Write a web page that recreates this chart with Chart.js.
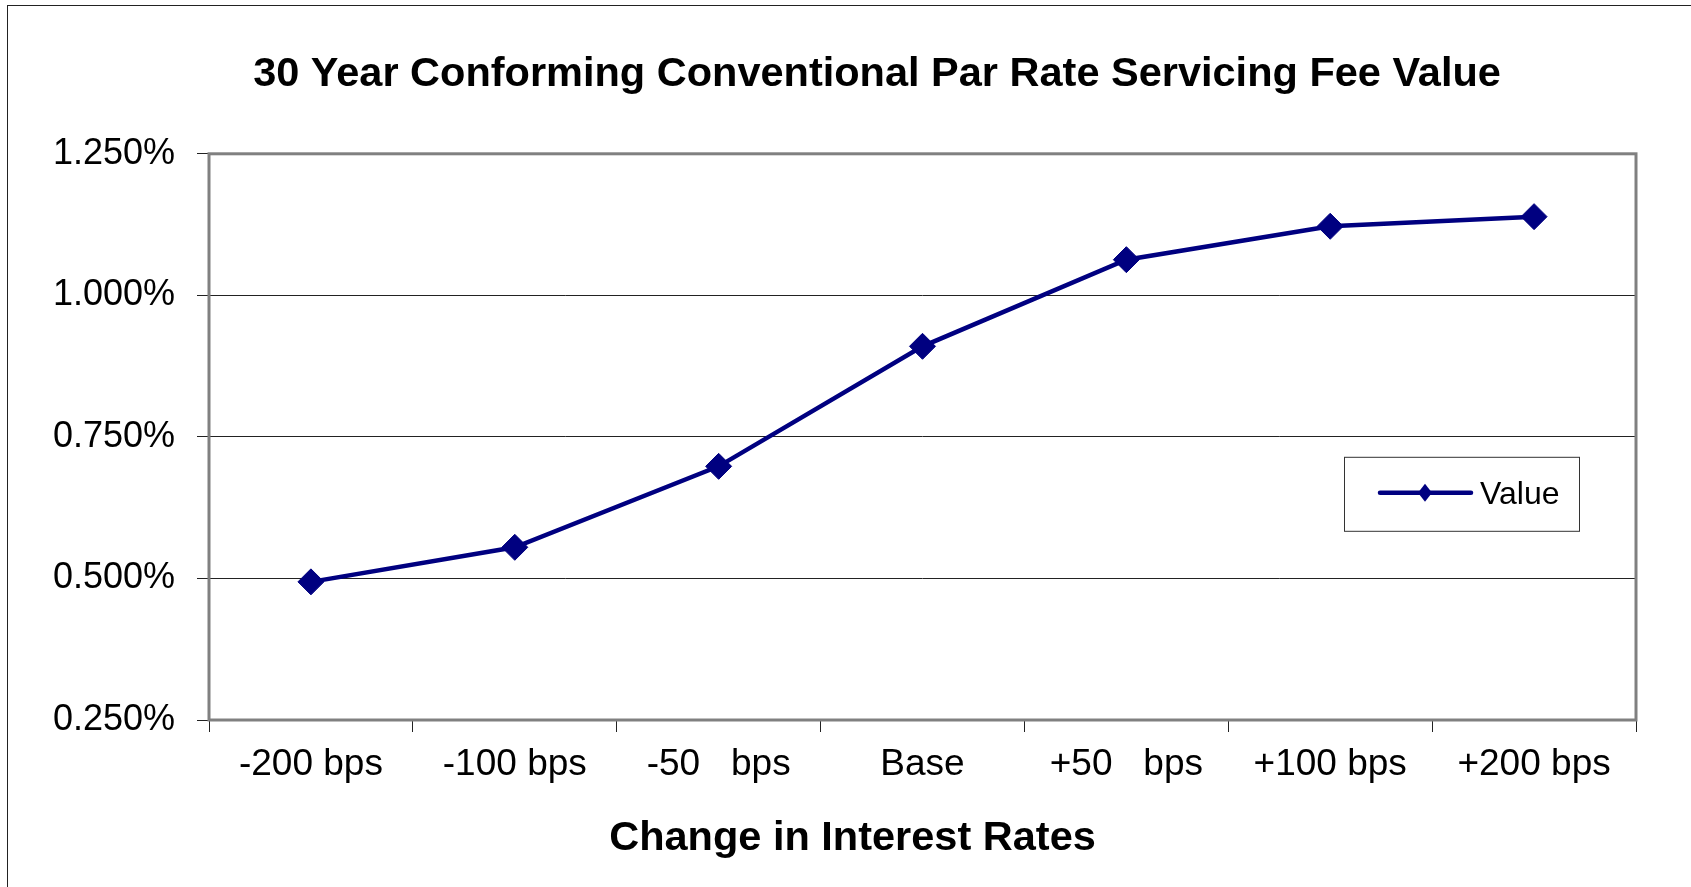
<!DOCTYPE html>
<html>
<head>
<meta charset="utf-8">
<title>30 Year Conforming Conventional Par Rate Servicing Fee Value</title>
<script src="https://cdn.jsdelivr.net/npm/chart.js@4.4.1/dist/chart.umd.min.js"></script>
<style>
    html, body { margin: 0; padding: 0; background: #fff; overflow: hidden; }
    #frame { position: absolute; left: 7px; top: 5px; width: 1800px; height: 1000px; border: 1px solid #222; }
    #feeChart { position: absolute; left: 0; top: 0; }
</style>
</head>
<body>
<div id="frame"></div>
<canvas id="feeChart" width="1691" height="887"></canvas>
<script>
// data
const categories = ['-200 bps', '-100 bps', '-50   bps', 'Base', '+50   bps', '+100 bps', '+200 bps'];
const fee_values = [0.494, 0.555, 0.698, 0.910, 1.063, 1.122, 1.139];
const y_ticks = [0.25, 0.50, 0.75, 1.00, 1.25];
const series_label = 'Value';
const chart_title = '30 Year Conforming Conventional Par Rate Servicing Fee Value';
const x_title = 'Change in Interest Rates';

const FONT = "'Liberation Sans', Arial, sans-serif";
const NAVY = '#000080';

Chart.defaults.font.family = FONT;
Chart.defaults.color = '#000';

// plot area border, legend box and x axis caption
const excelBits = {
    id: 'excelBits',
    afterLayout(chart) {
        // let the y labels use the room left of the axis box (otherwise clipped)
        chart.scales.y.left = 20;
    },
    afterDatasetsDraw(chart) {
        const ctx = chart.ctx;
        const a = chart.chartArea;
        ctx.save();

        // gray plot frame
        ctx.strokeStyle = '#808080';
        ctx.lineWidth = 3;
        ctx.strokeRect(a.left, a.top, a.right - a.left, a.bottom - a.top);

        // legend
        const ds = chart.data.datasets[0];
        const bx = a.right - 292, by = a.top + 303, bw = 235, bh = 74;
        ctx.fillStyle = '#fff';
        ctx.fillRect(bx, by, bw, bh);
        ctx.strokeStyle = '#333';
        ctx.lineWidth = 1;
        ctx.strokeRect(bx + 0.5, by + 0.5, bw, bh);
        const ly = by + 36;
        ctx.strokeStyle = ds.borderColor;
        ctx.lineWidth = 4.5;
        ctx.lineCap = 'round';
        ctx.beginPath();
        ctx.moveTo(bx + 36, ly);
        ctx.lineTo(bx + 127, ly);
        ctx.stroke();
        ctx.fillStyle = ds.borderColor;
        ctx.beginPath();
        ctx.moveTo(bx + 81, ly - 9);
        ctx.lineTo(bx + 88, ly);
        ctx.lineTo(bx + 81, ly + 9);
        ctx.lineTo(bx + 74, ly);
        ctx.closePath();
        ctx.fill();
        ctx.fillStyle = '#000';
        ctx.font = '32px ' + FONT;
        ctx.textAlign = 'left';
        ctx.textBaseline = 'middle';
        ctx.fillText(ds.label, bx + 136, ly + 2);

        // x axis caption
        ctx.font = 'bold 41.5px ' + FONT;
        ctx.textAlign = 'center';
        ctx.fillText(x_title, (a.left + a.right) / 2 - 70, a.bottom + 119);
        ctx.restore();
    }
};

const config = {
    type: 'line',
    data: {
        labels: categories,
        datasets: [{
            label: series_label,
            data: fee_values,
            borderColor: NAVY,
            backgroundColor: NAVY,
            borderWidth: 4.5,
            tension: 0,
            pointStyle: 'rectRot',
            pointRadius: 13,
            pointHoverRadius: 13,
            pointBackgroundColor: NAVY,
            pointBorderColor: NAVY,
            pointBorderWidth: 1
        }]
    },
    options: {
        responsive: false,
        animation: false,
        devicePixelRatio: 1,
        layout: {
            padding: { left: 118, right: 55, top: 0, bottom: 0 }
        },
        plugins: {
            legend: { display: false },
            tooltip: { enabled: false },
            title: {
                display: true,
                text: chart_title,
                color: '#000',
                font: { size: 41.5, weight: 'bold' },
                padding: { top: 50, bottom: 54 }
            }
        },
        scales: {
            x: {
                type: 'category',
                offset: true,
                grid: {
                    offset: true,
                    drawOnChartArea: false,
                    drawTicks: true,
                    tickLength: 12,
                    color: '#222',
                    lineWidth: 1
                },
                border: { display: false },
                ticks: {
                    color: '#000',
                    font: { size: 37 },
                    padding: 11,
                    maxRotation: 0,
                    autoSkip: false
                },
                afterFit(scale) { scale.height = 167; }
            },
            y: {
                min: y_ticks[0],
                max: y_ticks[y_ticks.length - 1],
                grid: {
                    color: '#222',
                    lineWidth: 1,
                    drawTicks: true,
                    tickLength: 12
                },
                border: { display: false },
                ticks: {
                    color: '#000',
                    font: { size: 36 },
                    padding: 22,
                    callback: (v) => Number(v).toFixed(3) + '%'
                },
                afterBuildTicks(scale) {
                    scale.ticks = y_ticks.map(v => ({ value: v }));
                },
                afterFit(scale) { scale.width = 91; }
            }
        }
    },
    plugins: [excelBits]
};

new Chart(document.getElementById('feeChart'), config);
</script>
</body>
</html>
